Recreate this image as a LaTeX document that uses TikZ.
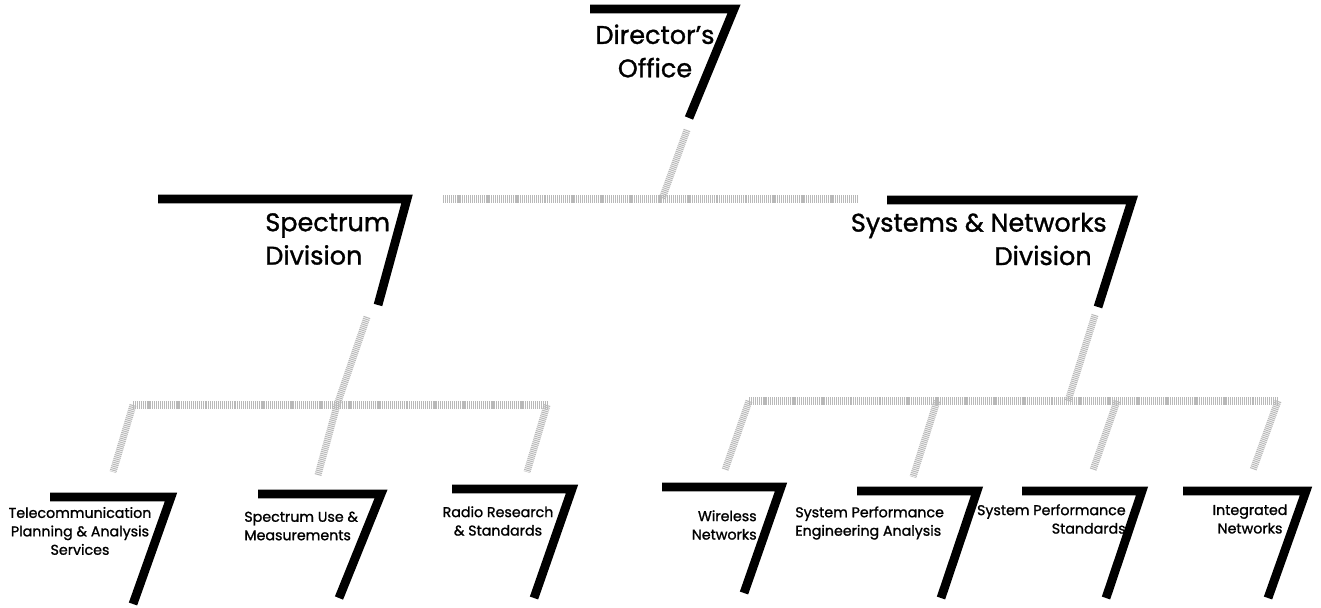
\documentclass[tikz,border=0pt]{standalone}
\usepackage{fontspec}
\setmainfont{Poppins}[RawFeature={embolden=1.2}]
\usetikzlibrary{positioning,calc}
% a "7" bracket: name, left end, corner, bar height, foot x, foot y
\newcommand{\seven}[6]{%
  \coordinate (#1-l) at (#2,#4);
  \coordinate (#1-r) at (#3,#4);
  \coordinate (#1-f) at (#5,#6);
  \draw[sevenbar] (#1-l) -- (#1-r) -- (#1-f);
}

\begin{document}
\begin{tikzpicture}[x=0.02cm, y=-0.02cm]
  % Styles
  \tikzstyle{sevenbar} = [line width=5pt, line join=miter, miter limit=10]
  \tikzstyle{link} = [draw=gray!55, line width=4pt, dash pattern=on 0.6pt off 0.5pt]
  \tikzstyle{big} = [font=\fontsize{14.5}{19}\selectfont, inner sep=0pt]
  \tikzstyle{small} = [font=\fontsize{8.1}{10.5}\selectfont, inner sep=0pt]

  \useasboundingbox (0,0) rectangle (1321,608);

  % Connector points
  \coordinate (dir-down) at (687,130);
  \coordinate (top-mid) at (662,199);
  \coordinate (top-l) at (443,199);
  \coordinate (top-r) at (858,199);
  \coordinate (spec-down) at (367,317);
  \coordinate (lbus-m) at (337,405);
  \coordinate (lbus-l) at (133,405);
  \coordinate (lbus-r) at (547,405);
  \coordinate (sys-down) at (1095,315);
  \coordinate (rbus-m) at (1068,401);
  \coordinate (rbus-l) at (749,401);
  \coordinate (rbus-r) at (1278,401);
  \coordinate (rbus-2) at (937,401);
  \coordinate (rbus-3) at (1117,401);
  \coordinate (tel-up) at (113,472);
  \coordinate (use-up) at (318,475);
  \coordinate (radio-up) at (527,472);
  \coordinate (wire-up) at (725,470);
  \coordinate (eng-up) at (913,477);
  \coordinate (std-up) at (1093,470);
  \coordinate (integ-up) at (1253,470);

  % Connectors
  \draw[link] (dir-down) -- (top-mid);
  \draw[link] (top-l) -- (top-r);
  \draw[link] (spec-down) -- (lbus-m);
  \draw[link] (lbus-l) -- (lbus-r);
  \draw[link] (lbus-l) -- (tel-up);
  \draw[link] (lbus-m) -- (use-up);
  \draw[link] (lbus-r) -- (radio-up);
  \draw[link] (sys-down) -- (rbus-m);
  \draw[link] (rbus-l) -- (rbus-r);
  \draw[link] (rbus-l) -- (wire-up);
  \draw[link] (rbus-2) -- (eng-up);
  \draw[link] (rbus-3) -- (std-up);
  \draw[link] (rbus-r) -- (integ-up);

  % Brackets
  \seven{dir}{590}{734}{9}{689}{118}
  \seven{spec}{158}{407}{199}{378}{305}
  \seven{sys}{887}{1132}{200}{1098}{307}
  \seven{tel}{50}{171}{497}{133}{604}
  \seven{use}{258}{381}{494}{339}{598}
  \seven{radio}{452}{572}{489}{534}{598}
  \seven{wire}{662}{781}{487}{744}{593}
  \seven{eng}{857}{977}{491}{941}{598}
  \seven{std}{1022}{1142}{491}{1106}{598}
  \seven{integ}{1183}{1306}{491}{1268}{598}

  % Labels
  \node[big, align=center] (director) at (655,51) {Director's\\Office};
  \node[big, align=left, anchor=west] (spectrum) at (265,239) {Spectrum\\Division};
  \node[big, align=right, anchor=east] (systems) at (1107,239) {Systems \& Networks\\Division\hspace*{0.3cm}};
  \node[small, align=center] (telecom) at (80,531) {Telecommunication\\Planning \& Analysis\\Services};
  \node[small, align=left, anchor=west] (specuse) at (244,526) {Spectrum Use \&\\Measurements};
  \node[small, align=center] (radio) at (498,521) {Radio Research\\\& Standards};
  \node[small, align=right, anchor=east] (wireless) at (757,525) {Wireless\\Networks};
  \node[small, align=left, anchor=west] (sysperf) at (795,523) {System Performance\\Engineering Analysis};
  \node[small, align=right, anchor=east] (sysstd) at (1126,519) {System Performance\\Standards};
  \node[small, align=center] (integrated) at (1250,519) {Integrated\\Networks};
\end{tikzpicture}
\end{document}
